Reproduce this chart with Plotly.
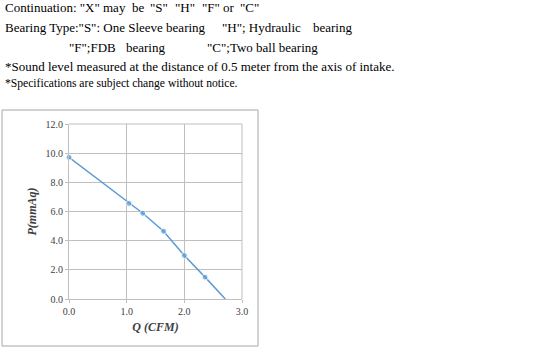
import plotly.graph_objects as go

q_cfm = [0.0, 1.04, 1.28, 1.64, 2.0, 2.36, 2.71]
p_mmaq = [9.72, 6.55, 5.88, 4.65, 2.98, 1.5, 0.0]
x_ticks = [0.0, 1.0, 2.0, 3.0]
y_ticks = [0.0, 2.0, 4.0, 6.0, 8.0, 10.0, 12.0]
note_line1 = ['Continuation: "X" may', 'be', '"S"', '"H"', '"F" or', '"C"']
note_line2 = ['Bearing Type:"S": One Sleeve bearing', '"H"; Hydraulic', 'bearing']
note_line3 = ['"F";FDB', 'bearing', '"C";Two ball bearing']
note_line4 = '*Sound level measured at the distance of 0.5 meter from the axis of intake.'
note_line5 = '*Specifications are subject change without notice.'

W, H = 535, 361
L, R, T, B = 69, 242, 124, 299

def px(x):
    return (x - L) / (R - L)

def py(y):
    return (B - y) / (B - T)

fig = go.Figure()
fig.add_trace(go.Scatter(
    x=q_cfm, y=p_mmaq, mode="lines+markers",
    line=dict(color="#5B9BD5", width=1.5),
    marker=dict(color="#5B9BD5", size=[6, 6, 6, 6, 6, 6, 0]),
    showlegend=False, cliponaxis=False,
))

font_serif = "Liberation Serif"
ann = []

def add_text(txt, x0, y0, fs=13):
    ann.append(dict(x=px(x0), y=py(y0), xref="paper", yref="paper", text=txt,
                    showarrow=False, xanchor="left", yanchor="middle",
                    font=dict(family=font_serif, size=fs, color="#000000")))

for txt, x0 in zip(note_line1, [3, 130, 148, 173, 200, 238]):
    add_text(txt, x0, 7)
for txt, x0 in zip(note_line2, [3, 220, 311]):
    add_text(txt, x0, 27)
for txt, x0 in zip(note_line3, [67, 124, 205]):
    add_text(txt, x0, 47)
add_text(note_line4, 3, 66)
add_text(note_line5, 3, 83, 11.6)

fig.update_layout(
    width=W, height=H,
    margin=dict(l=L, r=W - R, t=T, b=H - B),
    paper_bgcolor="white", plot_bgcolor="white",
    font=dict(family=font_serif),
    annotations=ann,
    shapes=[dict(type="rect", xref="paper", yref="paper",
                 x0=px(2), x1=px(258), y0=py(346), y1=py(110),
                 line=dict(color="#A6A6A6", width=1))],
    xaxis=dict(range=[0, 3], tickvals=x_ticks, ticktext=[f"{v:.1f}" for v in x_ticks],
               showgrid=True, gridcolor="#BFBFBF", gridwidth=1,
               showline=True, linecolor="#BFBFBF", zeroline=False,
               ticks="outside", ticklen=3, tickcolor="#BFBFBF",
               tickfont=dict(family=font_serif, size=10, color="#404040"),
               title=dict(text="<b><i>Q (CFM)</i></b>", standoff=6,
                          font=dict(family=font_serif, size=12, color="#404040"))),
    yaxis=dict(range=[0, 12], tickvals=y_ticks, ticktext=[f"{v:.1f}" for v in y_ticks],
               showgrid=True, gridcolor="#BFBFBF", gridwidth=1,
               showline=True, linecolor="#BFBFBF", zeroline=False,
               ticks="outside", ticklen=3, tickcolor="#BFBFBF",
               tickfont=dict(family=font_serif, size=10, color="#404040"),
               title=dict(text="<b><i>P(mmAq)</i></b>", standoff=6,
                          font=dict(family=font_serif, size=12, color="#404040"))),
)
fig.add_shape(type="line", xref="paper", yref="paper", x0=1, x1=1, y0=0, y1=1,
              line=dict(color="#BFBFBF", width=1))
fig.add_shape(type="line", xref="paper", yref="paper", x0=0, x1=1, y0=1, y1=1,
              line=dict(color="#BFBFBF", width=1))

fig.write_html("out.html", config={"displayModeBar": False},
               post_script="document.body.style.margin='0';")
